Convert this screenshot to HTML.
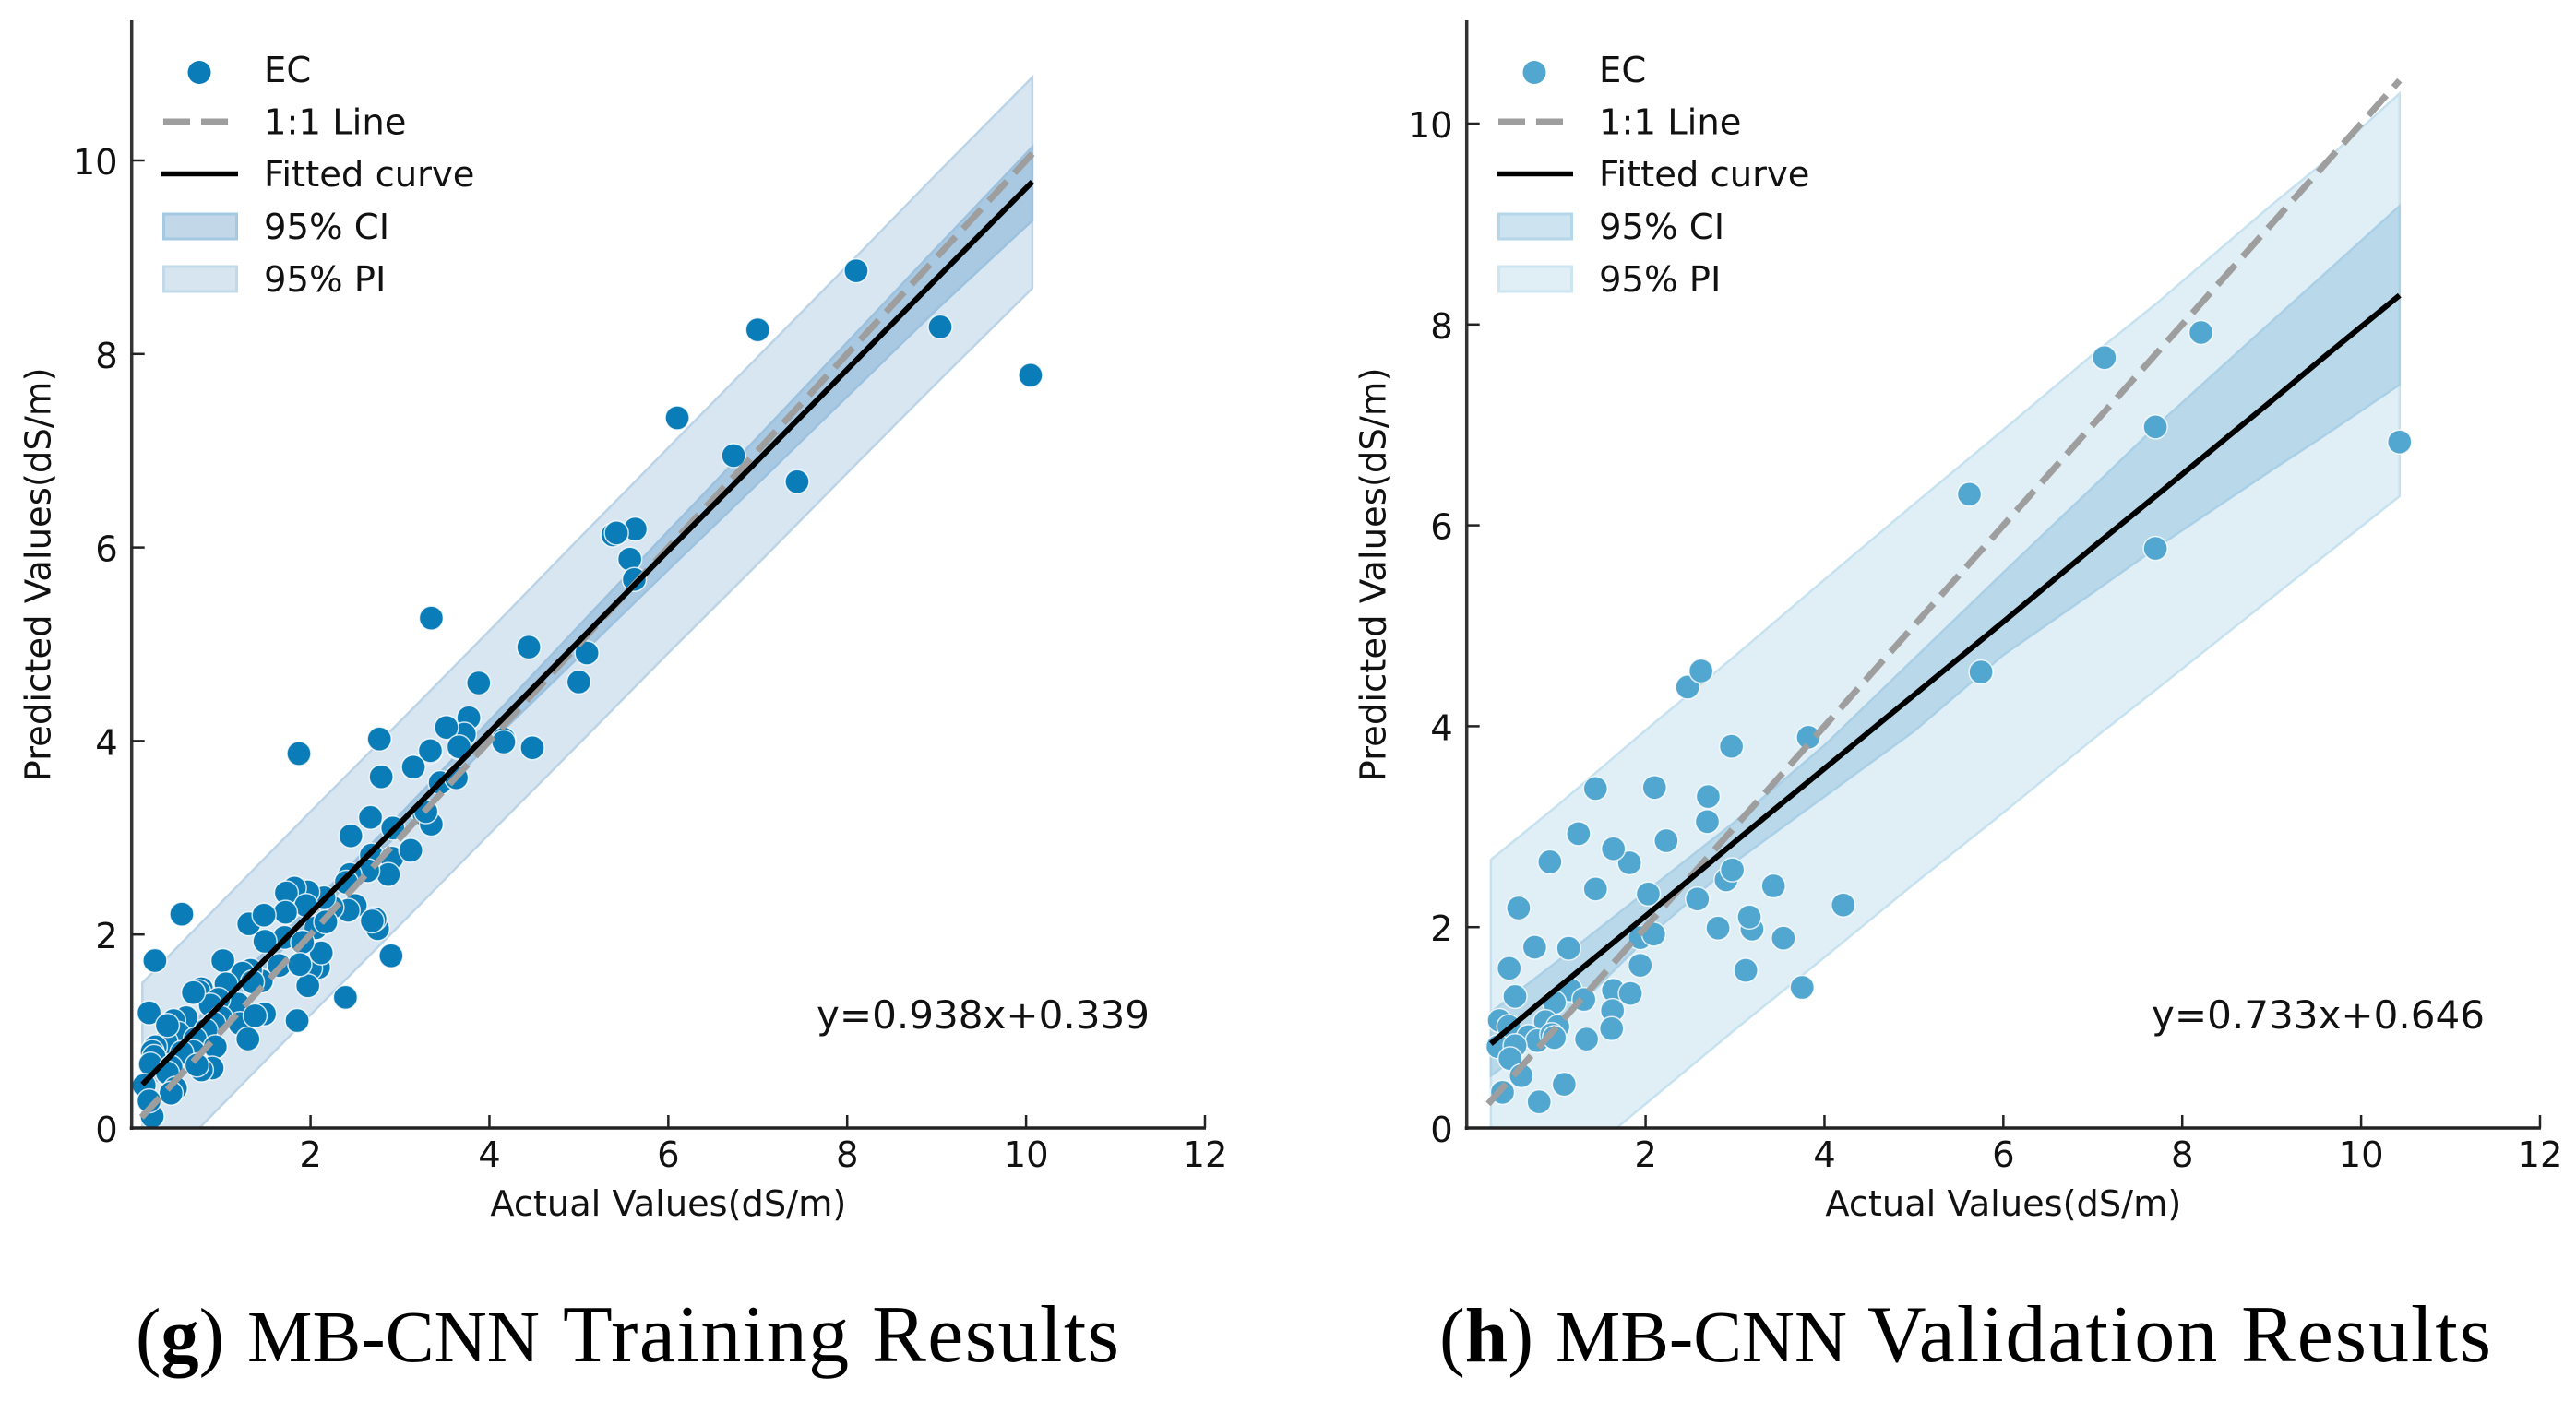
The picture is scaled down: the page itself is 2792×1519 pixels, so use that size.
<!DOCTYPE html>
<html lang="en">
<head>
<meta charset="utf-8">
<title>MB-CNN Training and Validation Results</title>
<style>
html,body{margin:0;padding:0;background:#fff;}
svg{display:block;}
text{font-family:"DejaVu Sans","Liberation Sans",sans-serif;fill:#111;}
.cap{font-family:"Liberation Serif",serif;fill:#000;}
</style>
</head>
<body>
<svg id="figure" xmlns="http://www.w3.org/2000/svg" width="2792" height="1519" viewBox="0 0 2792 1519">
  <rect width="2792" height="1519" fill="#fff"/>
  <g id="panel-g"></g>
  <g id="panel-h"></g>

  <g font-size="38.5">
    <circle cx="216" cy="78.5" r="12.5" fill="#0a7cb8"/>
    <text x="286" y="89">EC</text>
    <line x1="177" x2="247" y1="132" y2="132" stroke="#9e9e9e" stroke-width="7" stroke-dasharray="29 12"/>
    <text x="286" y="145.500">1:1 Line</text>
    <line x1="175" x2="258" y1="188.500" y2="188.500" stroke="#000" stroke-width="5.500"/>
    <text x="286" y="202">Fitted curve</text>
    <rect x="177.500" y="232" width="79" height="27" fill="#c2d7e8" stroke="#a6c9e3" stroke-width="3"/>
    <text x="286" y="259">95% CI</text>
    <rect x="177.500" y="289" width="79" height="27" fill="#d6e5f0" stroke="#c2d9ea" stroke-width="3"/>
    <text x="286" y="316">95% PI</text>
  </g>
  <g font-size="38.5" transform="translate(1447 0)">
    <circle cx="216" cy="78.5" r="12.5" fill="#52a7d0"/>
    <text x="286" y="89">EC</text>
    <line x1="177" x2="247" y1="132" y2="132" stroke="#9e9e9e" stroke-width="7" stroke-dasharray="29 12"/>
    <text x="286" y="145.500">1:1 Line</text>
    <line x1="175" x2="258" y1="188.500" y2="188.500" stroke="#000" stroke-width="5.500"/>
    <text x="286" y="202">Fitted curve</text>
    <rect x="177.500" y="232" width="79" height="27" fill="#cde3ef" stroke="#b5d7e9" stroke-width="3"/>
    <text x="286" y="259">95% CI</text>
    <rect x="177.500" y="289" width="79" height="27" fill="#e0eff6" stroke="#cde5f1" stroke-width="3"/>
    <text x="286" y="316">95% PI</text>
  </g>

  <text x="885" y="1115" font-size="41.500" textLength="361" lengthAdjust="spacingAndGlyphs">y=0.938x+0.339</text>
  <text x="2332" y="1115" font-size="41.500" textLength="361" lengthAdjust="spacingAndGlyphs">y=0.733x+0.646</text>

  <g>
    <text class="cap" x="147" y="1476" font-size="84" textLength="96" lengthAdjust="spacingAndGlyphs">(<tspan font-weight="bold">g</tspan>)</text>
    <text class="cap" x="268" y="1476" font-size="79" textLength="317" lengthAdjust="spacingAndGlyphs">MB-CNN</text>
    <text class="cap" x="610" y="1476" font-size="88" textLength="603" lengthAdjust="spacing">Training Results</text>
  </g>
  <g>
    <text class="cap" x="1560" y="1476" font-size="84" textLength="102" lengthAdjust="spacingAndGlyphs">(<tspan font-weight="bold">h</tspan>)</text>
    <text class="cap" x="1686" y="1476" font-size="79" textLength="316" lengthAdjust="spacingAndGlyphs">MB-CNN</text>
    <text class="cap" x="2024" y="1476" font-size="88" textLength="676" lengthAdjust="spacing">Validation Results</text>
  </g>
</svg>

<script>
// ---- shared tick labels ----
var xTickLabels = [2, 4, 6, 8, 10, 12];
var trainYTickLabels = [0, 2, 4, 6, 8, 10];
var valYTickLabels = [0, 2, 4, 6, 8, 10];

// ---- (g) training data ----
var trainActual = [10.05,9.04,8.10,7.00,7.44,6.73,6.10,5.63,5.38,5.42,5.57,5.62,5.09,5.00,4.44,4.48,3.88,3.35,4.16,3.77,3.72,3.66,3.52,3.34,
  1.87,2.77,3.34,3.66,4.16,2.79,3.15,3.45,3.63,3.27,3.35,3.29,2.67,2.45,2.92,2.68,2.91,3.12,2.87,2.64,2.44,2.40,2.50,2.42,2.24,2.15,1.97,1.82,1.73,1.95,1.72,1.31,1.48,2.06,2.17,2.75,2.72,2.69,2.90,1.65,2.09,2.00,2.12,1.71,1.49,1.91,1.97,2.39,1.85,1.88,
  1.02,0.56,0.26,1.45,1.33,1.24,1.35,1.055,0.78,0.75,1.19,0.97,0.88,0.195,0.61,0.47,1.0,0.92,1.21,1.485,1.38,1.30,0.83,0.52,0.71,0.935,0.385,0.265,0.23,0.25,0.21,0.69,0.56,0.90,0.78,0.73,0.44,0.40,0.49,0.44,0.14,0.23,0.195,0.40,0.69];
var trainPredicted = [7.78,8.28,8.86,8.25,6.68,6.95,7.34,6.19,6.13,6.15,5.88,5.67,4.91,4.61,4.97,3.93,4.60,5.27,4.02,4.24,4.07,3.93,4.14,3.89,
  3.87,4.02,3.90,3.94,3.99,3.63,3.73,3.57,3.62,3.24,3.14,3.27,3.21,3.02,3.10,2.82,2.79,2.87,2.62,2.66,2.62,2.54,2.30,2.25,2.28,2.38,2.44,2.48,2.43,2.30,2.23,2.11,2.20,2.07,2.13,2.06,2.16,2.14,1.78,1.68,1.66,1.65,1.81,1.97,1.93,1.92,1.47,1.35,1.11,1.69,
  1.73,2.21,1.73,1.52,1.63,1.60,1.51,1.49,1.44,1.41,1.28,1.33,1.27,1.19,1.14,1.11,1.14,1.08,1.08,1.18,1.16,0.92,1.01,0.98,0.92,0.84,0.89,0.84,0.79,0.74,0.66,0.79,0.78,0.62,0.60,0.65,0.63,0.57,0.41,0.36,0.44,0.12,0.28,1.06,1.40];
var trainBandX   = [0.12,1,2,3,4,5,6,7,8,9,10.07];
var trainFitY    = [0.45,1.28,2.22,3.15,4.09,5.03,5.97,6.90,7.84,8.78,9.78];
var trainCiLow   = [0.33,1.19,2.15,3.06,3.97,4.87,5.77,6.66,7.56,8.46,9.38];
var trainCiHigh  = [0.57,1.37,2.29,3.24,4.21,5.19,6.17,7.14,8.12,9.10,10.14];
var trainPiLow   = [-0.60,0.23,1.17,2.10,3.04,3.97,4.91,5.83,6.77,7.70,8.68];
var trainPiHigh  = [1.50,2.33,3.27,4.20,5.14,6.09,7.03,7.97,8.91,9.86,10.86];
var trainRefX    = [0.11,10.07];
var trainRefY    = [0.11,10.07];

// ---- (h) validation data ----
var valActual = [2.47,2.62,5.75,3.82,2.96,1.44,2.10,2.70,2.69,1.25,1.82,1.64,2.23,0.93,2.90,2.97,1.44,3.43,2.03,2.58,0.58,4.21,2.81,3.19,3.16,3.54,1.94,2.09,0.76,1.14,0.475,1.94,3.12,3.75,1.64,1.83,1.16,0.54,1.31,0.98,1.63,1.62,1.34,0.365,0.47,0.88,1.02,0.69,0.79,0.35,0.54,0.95,0.98,0.485,0.61,0.40,1.09,0.81,7.13,8.21,7.70,7.70,5.62,10.43];
var valPredicted = [4.39,4.55,4.54,3.89,3.80,3.38,3.39,3.30,3.05,2.93,2.64,2.78,2.86,2.65,2.47,2.57,2.38,2.41,2.33,2.28,2.19,2.22,1.99,1.98,2.10,1.89,1.895,1.93,1.80,1.79,1.59,1.62,1.57,1.40,1.37,1.34,1.375,1.31,1.28,1.25,1.17,0.99,0.885,1.07,1.01,1.06,1.01,0.91,0.87,0.81,0.82,0.93,0.90,0.69,0.52,0.355,0.435,0.26,7.67,7.92,6.98,5.77,6.31,6.83];
var valBandX   = [0.27,1,2,3,4,5,6,7,7.7,9,9.55,10.43];
var valFitY    = [0.84,1.38,2.11,2.85,3.58,4.31,5.04,5.78,6.29,7.24,7.65,8.29];
var valCiLow   = [0.52,1.00,1.88,2.65,3.30,3.95,4.71,5.33,5.77,6.55,6.87,7.40];
var valCiHigh  = [1.15,1.65,2.35,3.05,3.81,4.67,5.53,6.38,6.98,8.03,8.47,9.18];
var valPiLow   = [-1.00,-0.50,0.24,0.98,1.70,2.43,3.14,3.87,4.36,5.28,5.67,6.29];
var valPiHigh  = [2.67,3.20,3.96,4.70,5.46,6.21,6.95,7.70,8.20,9.19,9.59,10.30];
var valRefX    = [0.24,10.43];
var valRefY    = [0.24,10.43];

var SVGNS = 'http://www.w3.org/2000/svg';

function make(tag, attrs, parent) {
  var el = document.createElementNS(SVGNS, tag);
  for (var k in attrs) el.setAttribute(k, attrs[k]);
  parent.appendChild(el);
  return el;
}

function bandPath(xs, low, high, sx, sy) {
  var d = '';
  for (var i = 0; i < xs.length; i++) d += (i ? 'L' : 'M') + sx(xs[i]) + ' ' + sy(high[i]);
  for (var j = xs.length - 1; j >= 0; j--) d += 'L' + sx(xs[j]) + ' ' + sy(low[j]);
  return d + 'Z';
}

function drawPanel(root, id, cfg) {
  var sx = function (v) { return cfg.x0 + v * 96.94; };
  var sy = function (v) { return 1223 - v * cfg.yUnit; };

  var clip = make('clipPath', { id: 'clip-' + id }, root);
  make('rect', { x: cfg.x0, y: 0, width: 1240, height: 1223 }, clip);

  var marks = make('g', { 'clip-path': 'url(#clip-' + id + ')' }, root);
  
  

  var pi = make('path', { d: bandPath(cfg.bandX, cfg.piLow, cfg.piHigh, sx, sy), fill: cfg.piFill, stroke: cfg.piEdge, 'stroke-width': 2.5 }, marks);
  
  

  var ci = make('path', { d: bandPath(cfg.bandX, cfg.ciLow, cfg.ciHigh, sx, sy), fill: cfg.ciFill, stroke: cfg.ciEdge, 'stroke-width': 2.5 }, marks);
  
  

  var points = make('g', {}, marks);
  
  
  for (var i = 0; i < cfg.actual.length; i++) {
    var pt = make('circle', { cx: sx(cfg.actual[i]), cy: sy(cfg.predicted[i]), r: 13, fill: cfg.dot, stroke: '#fff', 'stroke-width': 1.5, 'stroke-opacity': 0.8 }, points);
    
    
  }

  var ref = make('line', { x1: sx(cfg.refX[0]), y1: sy(cfg.refY[0]), x2: sx(cfg.refX[1]), y2: sy(cfg.refY[1]), stroke: '#9e9e9e', 'stroke-width': 7, 'stroke-dasharray': '29 12' }, marks);
  
  

  var fitPts = '';
  for (var f = 0; f < cfg.bandX.length; f++) fitPts += sx(cfg.bandX[f]) + ',' + sy(cfg.fitY[f]) + ' ';
  var fit = make('polyline', { points: fitPts, fill: 'none', stroke: '#000', 'stroke-width': 6 }, marks);
  
  

  var yAxis = make('g', {}, root);
  
  
  make('line', { x1: cfg.x0, x2: cfg.x0, y1: 22, y2: 1225, stroke: '#333', 'stroke-width': 3.5 }, yAxis);
  cfg.yTicks.forEach(function (v) {
    if (v !== 0) make('line', { x1: cfg.x0, x2: cfg.x0 + 14, y1: sy(v), y2: sy(v), stroke: '#222', 'stroke-width': 2.5 }, yAxis);
    var t = make('text', { x: cfg.x0 - 15, y: sy(v) + 15, 'font-size': 38.5, 'text-anchor': 'end' }, yAxis);
    
    
    t.textContent = v;
  });

  var xAxis = make('g', {}, root);
  
  
  make('line', { x1: cfg.x0 - 2, x2: sx(12) + 1, y1: 1223, y2: 1223, stroke: '#222', 'stroke-width': 3.5 }, xAxis);
  xTickLabels.forEach(function (v) {
    make('line', { x1: sx(v), x2: sx(v), y1: 1223, y2: 1209, stroke: '#222', 'stroke-width': 2.5 }, xAxis);
    var t = make('text', { x: sx(v), y: 1265, 'font-size': 38.5, 'text-anchor': 'middle' }, xAxis);
    
    
    t.textContent = v;
  });

  var xt = make('text', { x: sx(6), y: 1318, 'font-size': 38.5, 'text-anchor': 'middle', textLength: 386, lengthAdjust: 'spacingAndGlyphs' }, root);
  
  
  xt.textContent = 'Actual Values(dS/m)';

  var cx = cfg.x0 - 88, cy = 623;
  var yt = make('text', { x: 0, y: 0, 'font-size': 38.5, 'text-anchor': 'middle', textLength: 449, lengthAdjust: 'spacingAndGlyphs', transform: 'translate(' + cx + ' ' + cy + ') rotate(-90)' }, root);
  
  
  yt.textContent = 'Predicted Values(dS/m)';
}

drawPanel(document.getElementById('panel-g'), 'g', {
  x0: 142.7, yUnit: 104.9, yTicks: trainYTickLabels,
  actual: trainActual, predicted: trainPredicted,
  bandX: trainBandX, fitY: trainFitY, ciLow: trainCiLow, ciHigh: trainCiHigh, piLow: trainPiLow, piHigh: trainPiHigh,
  refX: trainRefX, refY: trainRefY,
  dot: '#0a7cb8', piFill: '#d8e6f1', piEdge: '#bbd4e7', ciFill: '#a8c9e1', ciEdge: '#9cc2df'
});
drawPanel(document.getElementById('panel-h'), 'h', {
  x0: 1589.7, yUnit: 108.9, yTicks: valYTickLabels,
  actual: valActual, predicted: valPredicted,
  bandX: valBandX, fitY: valFitY, ciLow: valCiLow, ciHigh: valCiHigh, piLow: valPiLow, piHigh: valPiHigh,
  refX: valRefX, refY: valRefY,
  dot: '#52a7d0', piFill: '#e0eff6', piEdge: '#c6e1ef', ciFill: '#b9d8e9', ciEdge: '#a9d0e6'
});
</script>
</body>
</html>
